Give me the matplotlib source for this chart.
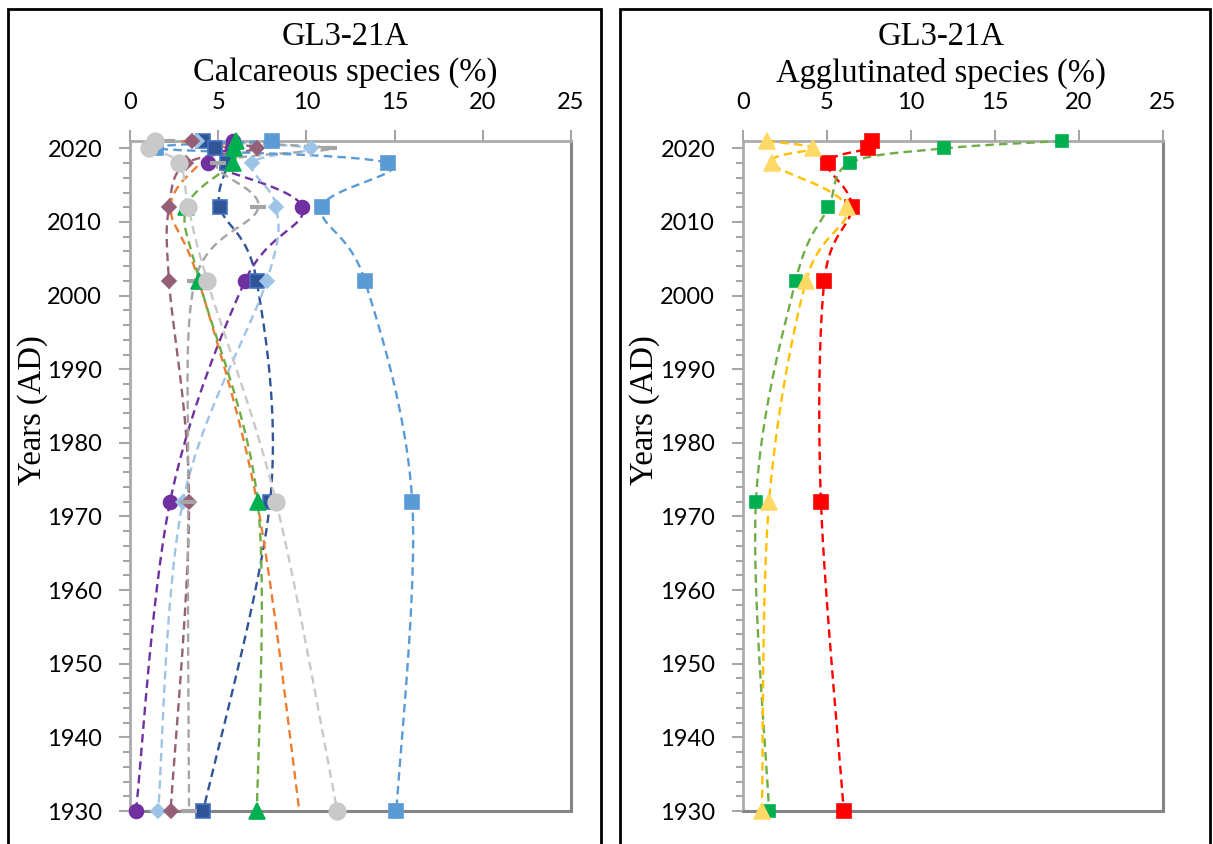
import numpy as np
import matplotlib
matplotlib.use("Agg")
import matplotlib.pyplot as plt
from matplotlib.patches import Rectangle

# sample years (same for every series)
years = [2021, 2020, 2018, 2012, 2002, 1972, 1930]

# calcareous species (%)
purple = [5.86, 5.8, 4.44, 9.77, 6.52, 2.27, 0.34]
dark_blue = [4.16, 4.82, 5.48, 5.1, 7.18, 7.94, 4.15]
light_blue = [3.78, 10.26, 6.93, 8.3, 7.75, 3.0, 1.6]
mauve = [3.5, 7.18, 3.2, 2.21, 2.21, 3.35, 2.3]
gray_dash = [2.1, 11.3, 5.0, 7.28, 3.68, 3.3, 3.35]
orange = [2.93, 5.5, 4.0, 2.3, 3.9, 7.2, 9.6]
green = [6.0, 5.9, 5.82, 3.2, 3.93, 7.24, 7.2]
blue_sq = [8.03, 1.5, 14.6, 10.87, 13.32, 16.0, 15.1]
light_gray = [1.42, 1.1, 2.8, 3.31, 4.38, 8.28, 11.75]

# agglutinated species (%)
red = [7.66, 7.46, 5.04, 6.47, 4.84, 4.64, 6.0]
green_agg = [19.0, 11.98, 6.37, 5.08, 3.13, 0.77, 1.55]
yellow = [1.41, 4.15, 1.71, 6.17, 3.75, 1.55, 1.13]

x_ticks = [0, 5, 10, 15, 20, 25]
y_ticks = list(range(1930, 2021, 10))

serif = ["Liberation Serif", "DejaVu Serif"]
sans = ["Lato", "DejaVu Sans"]


def smooth(ax, x, y, n=30):
    # Excel-like smoothed line (bezier through the points, in screen space)
    pts = ax.transData.transform(np.column_stack([x, y]))
    P = np.vstack([pts[0], pts, pts[-1]])
    out = []
    t = np.linspace(0, 1, n)[:, None]
    for i in range(1, len(P) - 2):
        p0, p1, p2, p3 = P[i - 1], P[i], P[i + 1], P[i + 2]
        c1 = p1 + (p2 - p0) / 6
        c2 = p2 - (p3 - p1) / 6
        seg = (1 - t) ** 3 * p1 + 3 * (1 - t) ** 2 * t * c1 + 3 * (1 - t) * t ** 2 * c2 + t ** 3 * p2
        out.append(seg)
    c = ax.transData.inverted().transform(np.vstack(out))
    return c[:, 0], c[:, 1]


def series(ax, x, line_col, marker=None, mfc=None, mec=None, ms=10, lw=1.7):
    sx, sy = smooth(ax, x, years)
    ax.plot(sx, sy, color=line_col, lw=lw, ls=(0, (3.6, 2.2)), zorder=2, clip_on=False)
    if marker:
        ax.plot(x, years, ls="none", marker=marker, ms=ms,
                mfc=mfc or line_col, mec=mec or mfc or line_col, mew=1.2 if marker != "_" else 3,
                zorder=3, clip_on=False)


def setup(ax):
    ax.set_xlim(0, 25)
    ax.set_ylim(1930, 2021)
    ax.xaxis.tick_top()
    ax.set_xticks(x_ticks)
    ax.set_yticks(y_ticks)
    ax.set_yticks(range(1930, 2021, 2), minor=True)
    ax.tick_params(axis="x", which="major", direction="out", length=8, width=1.5,
                   color="#A6A6A6", pad=12, labelsize=17)
    ax.tick_params(axis="y", which="major", direction="out", length=8, width=1.5,
                   color="#A6A6A6", pad=12, labelsize=17)
    ax.tick_params(axis="y", which="minor", direction="out", length=5, width=1.5,
                   color="#A6A6A6")
    for lab in ax.get_xticklabels() + ax.get_yticklabels():
        lab.set_family(sans)
    for s in ("top", "left"):
        ax.spines[s].set_color("#ABABAB")
        ax.spines[s].set_linewidth(2)
        ax.spines[s].set_zorder(1)
    for s in ("bottom", "right"):
        ax.spines[s].set_color("#858585")
        ax.spines[s].set_linewidth(2.2)
        ax.spines[s].set_zorder(1)


fig = plt.figure(figsize=(12.13, 8.44), dpi=100)

# panel frames
fig.patches.append(Rectangle((8 / 1213, -0.01), 593 / 1213, 1 - 9 / 844 + 0.01,
                             transform=fig.transFigure, fill=False, ec="black", lw=2))
fig.patches.append(Rectangle((620 / 1213, -0.01), 590 / 1213, 1 - 9 / 844 + 0.01,
                             transform=fig.transFigure, fill=False, ec="black", lw=2))

ax1 = fig.add_axes([130 / 1213, 1 - 811 / 844, 441 / 1213, 670 / 844])
ax2 = fig.add_axes([743 / 1213, 1 - 811 / 844, 420 / 1213, 670 / 844])
setup(ax1)
setup(ax2)

# left panel: calcareous
series(ax1, purple, "#7030A0", "o", ms=10)
series(ax1, dark_blue, "#2F5597", "s", mfc="#2F5597", mec="#4472C4", ms=10)
series(ax1, light_blue, "#9DC3E6", "D", ms=7)
series(ax1, mauve, "#955F78", "D", ms=7)
series(ax1, gray_dash, "#A5A5A5", "_", ms=12)
series(ax1, orange, "#ED7D31")
series(ax1, green, "#70AD47", "^", mfc="#00B050", mec="#00B050", ms=11)
series(ax1, blue_sq, "#5B9BD5", "s", ms=10)
series(ax1, light_gray, "#C9C9C9", "o", ms=12)

# right panel: agglutinated
series(ax2, red, "#FF0000", "s", ms=10)
series(ax2, green_agg, "#70AD47", "s", mfc="#00B050", mec="#00B050", ms=9)
series(ax2, yellow, "#FFC000", "^", mfc="#FFD966", mec="#FFD966", ms=11)

for cx, sub in ((345, "Calcareous species (%)"), (941, "Agglutinated species (%)")):
    fig.text(cx / 1213, 1 - 37 / 844, "GL3-21A", ha="center", va="center",
             family=serif, fontsize=23.5)
    fig.text(cx / 1213, 1 - 73 / 844, sub, ha="center", va="center",
             family=serif, fontsize=23.5)

for lx in (33, 645):
    fig.text(lx / 1213, 1 - 410 / 844, "Years (AD)", rotation=90, ha="center",
             va="center", family=serif, fontsize=23.5)

fig.savefig("out.png", dpi=100)
